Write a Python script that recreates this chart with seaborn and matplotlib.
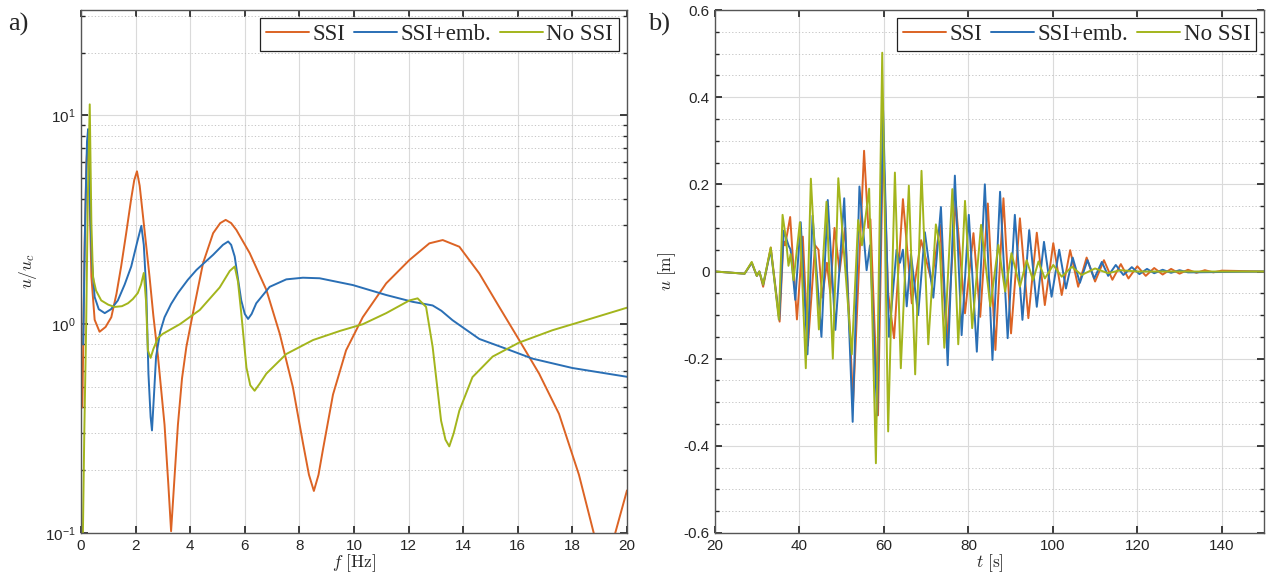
import numpy as np
import pandas as pd
import matplotlib
matplotlib.use("Agg")
import matplotlib.pyplot as plt
import seaborn as sns
from matplotlib.ticker import LogLocator, MultipleLocator, NullFormatter, FixedLocator

# ---------------- data: a) transfer functions ----------------
f_ssi = [0.05, 0.13, 0.2, 0.25, 0.3, 0.38, 0.5, 0.68, 0.9, 1.11, 1.3, 1.47, 1.65, 1.84, 1.95,
         2.05, 2.15, 2.27, 2.4, 2.51, 2.65, 2.82, 3.06, 3.2, 3.3, 3.42, 3.55, 3.7, 3.86, 4.1,
         4.47, 4.84, 5.1, 5.3, 5.5, 5.69, 6.18, 6.79, 7.28, 7.76, 8.13, 8.35, 8.53, 8.7, 8.86,
         9.23, 9.71, 10.32, 11.18, 12.03, 12.76, 13.25, 13.86, 14.59, 15.32, 16.05, 16.78,
         17.51, 18.24, 18.79, 19.2, 19.56, 20.0]
h_ssi = [0.4, 2.3, 6.0, 7.6, 5.0, 1.69, 1.05, 0.92, 0.97, 1.08, 1.4, 1.89, 2.7, 4.0, 4.9,
         5.4, 4.6, 3.3, 2.3, 1.69, 1.1, 0.7, 0.33, 0.17, 0.102, 0.18, 0.33, 0.55, 0.78, 1.13,
         1.96, 2.73, 3.05, 3.16, 3.05, 2.83, 2.19, 1.46, 0.90, 0.50, 0.27, 0.19, 0.159, 0.19, 0.25,
         0.46, 0.75, 1.08, 1.57, 2.03, 2.44, 2.53, 2.35, 1.75, 1.21, 0.84, 0.58,
         0.372, 0.19, 0.099, 0.06, 0.099, 0.16]

f_emb = [0.08, 0.15, 0.22, 0.26, 0.32, 0.4, 0.5, 0.65, 0.87, 1.1, 1.35, 1.6, 1.84, 2.05, 2.21,
         2.3, 2.39, 2.47, 2.55, 2.6, 2.67, 2.75, 2.9, 3.06, 3.3, 3.55, 3.91, 4.23, 4.84, 5.2,
         5.39, 5.5, 5.63, 5.75, 5.87, 6.0, 6.12, 6.25, 6.42, 6.91, 7.52, 8.13, 8.74, 9.96,
         11.18, 12.15, 12.88, 13.2, 13.61, 14.59, 15.56, 16.54, 18.0, 20.0]
h_emb = [0.8, 3.0, 7.5, 8.6, 4.1, 2.0, 1.35, 1.18, 1.13, 1.18, 1.30, 1.55, 1.89, 2.45, 2.96,
         2.4, 1.46, 0.58, 0.36, 0.31, 0.45, 0.70, 0.92, 1.08, 1.25, 1.41, 1.63, 1.82, 2.15, 2.4,
         2.49, 2.4, 2.11, 1.65, 1.30, 1.12, 1.06, 1.12, 1.26, 1.51, 1.64, 1.67, 1.66, 1.54,
         1.38, 1.28, 1.23, 1.16, 1.045, 0.85, 0.764, 0.684, 0.617, 0.56]

f_nossi = [0.07, 0.12, 0.19, 0.25, 0.32, 0.38, 0.44, 0.55, 0.74, 1.0, 1.23, 1.5, 1.72, 1.9,
           2.08, 2.2, 2.3, 2.38, 2.45, 2.55, 2.65, 2.82, 3.0, 3.62, 4.35, 5.08, 5.45, 5.63,
           5.75, 5.87, 6.06, 6.2, 6.36, 6.55, 6.79, 7.52, 8.5, 9.5, 10.32, 11.18, 12.03, 12.33,
           12.64, 12.88, 13.19, 13.35, 13.49, 13.65, 13.86, 14.34, 15.08, 16.05, 17.27, 18.49, 20.0]
h_nossi = [0.1, 0.3, 1.0, 4.0, 11.3, 3.06, 1.68, 1.45, 1.30, 1.24, 1.21, 1.22, 1.26, 1.32,
           1.41, 1.55, 1.76, 1.3, 0.75, 0.69, 0.76, 0.86, 0.9, 1.0, 1.17, 1.5, 1.8, 1.89,
           1.6, 1.13, 0.62, 0.51, 0.48, 0.52, 0.58, 0.72, 0.84, 0.93, 1.0, 1.13, 1.30, 1.33,
           1.21, 0.78, 0.345, 0.28, 0.26, 0.3, 0.386, 0.558, 0.70, 0.817, 0.936, 1.045, 1.2]

# ---------------- data: b) displacement time histories ----------------
t_ssi = [20, 27, 28.7, 29.9, 30.5, 31.4, 33.2, 35.3, 36.2, 36.6, 37.8, 39.4, 40.8, 42.0, 43.7,
         44.5, 45.4, 46.5, 47.3, 48.3, 49.5, 50.8, 52.7, 55.3, 56.3, 56.8, 58.6, 59.8, 61.0,
         62.4, 64.5, 66.6, 68.8, 71.3, 73.3, 74.9, 77.0, 79.2, 81.2, 82.8, 84.6, 86.4, 88.3,
         90.1, 92.2, 94.2, 96.2, 98.1, 100.1, 102.1, 104.1, 106.0, 108.0, 110.0, 112.1, 114.1,
         116.1, 117.9, 120, 122, 124, 126, 128, 130, 132, 134, 136, 138, 140, 150]
u_ssi = [0, -0.005, 0.02, -0.01, 0.0, -0.035, 0.055, -0.115, 0.07, 0.06, 0.125, -0.11, 0.08, -0.17, 0.06,
         0.05, -0.06, 0.02, -0.05, 0.1, 0.0, 0.1, -0.3, 0.277, 0.1, 0.12, -0.33, 0.3, -0.05,
         -0.153, 0.166, -0.073, 0.072, -0.023, 0.107, -0.165, 0.16, -0.096, 0.088, -0.104, 0.156, -0.18, 0.168,
         -0.142, 0.122, -0.107, 0.089, -0.077, 0.065, -0.054, 0.049, -0.035, 0.032, -0.023, 0.026, -0.019,
         0.017, -0.016, 0.012, -0.01, 0.008, -0.007, 0.006, -0.005, 0.004, -0.003, 0.003, -0.002, 0.002, 0]

t_emb = [20, 27, 28.7, 29.9, 30.5, 31.4, 33.2, 35.2, 36.3, 37.4, 37.9, 39.0, 40.3, 41.9, 43.1,
         45.2, 46.7, 48.5, 50.6, 52.6, 54.2, 55.9, 56.7, 58.4, 59.8, 61.2, 63.0, 63.8, 64.5,
         65.4, 66.4, 68.1, 69.7, 71.7, 73.5, 75.1, 76.8, 78.4, 80.1, 82.0, 83.9, 85.7, 87.5,
         89.3, 91.0, 92.8, 94.4, 96.2, 97.9, 99.7, 101.5, 103.1, 104.7, 106.4, 108.2, 109.8,
         111.6, 113.1, 114.9, 116.7, 118.7, 120.5, 122.3, 124, 126, 128, 130, 132, 150]
u_emb = [0, -0.005, 0.02, -0.01, 0.0, -0.03, 0.05, -0.11, 0.094, 0.06, 0.05, -0.065, 0.113, -0.19, 0.128,
         -0.15, 0.164, -0.134, 0.168, -0.345, 0.195, 0.003, 0.06, -0.33, 0.37, -0.15, 0.05, 0.02, 0.05,
         -0.08, 0.04, -0.1, 0.09, -0.06, 0.148, -0.215, 0.22, -0.146, 0.13, -0.184, 0.2, -0.203, 0.183,
         -0.153, 0.13, -0.111, 0.095, -0.081, 0.068, -0.058, 0.05, -0.039, 0.032, -0.026, 0.026, -0.016,
         0.022, -0.01, 0.015, -0.008, 0.01, -0.006, 0.006, -0.004, 0.004, -0.003, 0.003, -0.002, 0]

t_nossi = [20, 27, 28.7, 29.9, 30.5, 31.4, 33.2, 35.1, 36.0, 36.8, 37.4, 37.9, 38.6, 40.1, 41.5,
           42.7, 44.6, 46.4, 47.9, 49.2, 51.2, 52.4, 53.9, 54.8, 56.5, 58.1, 59.6, 61.0, 62.6,
           64.0, 65.9, 67.4, 68.9, 70.5, 72.3, 73.2, 74.3, 76.2, 77.6, 79.2, 80.9, 83.0, 85.2,
           87.1, 88.7, 90.2, 92.2, 93.8, 95.3, 96.6, 98.1, 100.1, 102.1, 104.5, 106.8, 110,
           113.1, 116, 120, 150]
u_nossi = [0, -0.005, 0.022, -0.01, 0.0, -0.03, 0.055, -0.11, 0.13, 0.075, 0.013, 0.04, -0.02, 0.113, -0.222,
           0.213, -0.133, 0.16, -0.2, 0.214, -0.04, -0.19, 0.118, 0.06, 0.19, -0.44, 0.502, -0.367, 0.227,
           -0.222, 0.197, -0.236, 0.231, -0.167, 0.108, 0.06, -0.175, 0.189, -0.167, 0.162, -0.13, 0.107, -0.08,
           0.061, -0.046, 0.042, -0.035, 0.026, -0.02, 0.023, -0.016, 0.015, -0.012, 0.011, -0.008, 0.007,
           -0.004, 0.003, 0, 0]

labels = ["SSI", "SSI+emb.", "No SSI"]
colors = ["#DC6324", "#2A6FB5", "#A3B51C"]

# ---------------- style ----------------
sns.set_theme(style="white")
plt.rcParams["font.family"] = ["Liberation Sans", "DejaVu Sans"]
plt.rcParams["mathtext.fontset"] = "cm"

fig = plt.figure(figsize=(12.7, 5.78), dpi=100)
ax1 = fig.add_axes([81 / 1270, 1 - 533 / 578, 546 / 1270, 523 / 578])
ax2 = fig.add_axes([715 / 1270, 1 - 533 / 578, 549 / 1270, 523 / 578])

freq_sets = [(f_ssi, h_ssi), (f_emb, h_emb), (f_nossi, h_nossi)]
time_sets = [(t_ssi, u_ssi), (t_emb, u_emb), (t_nossi, u_nossi)]

for (x, y), lab, c in zip(freq_sets, labels, colors):
    sns.lineplot(x=x, y=y, ax=ax1, color=c, lw=1.4, label=lab, estimator=None)
for (x, y), lab, c in zip(time_sets, labels, colors):
    sns.lineplot(x=x, y=y, ax=ax2, color=c, lw=1.4, label=lab, estimator=None)

# a) axis
ax1.set_yscale("log")
ax1.set_xlim(0, 20)
ax1.set_ylim(0.1, 10 ** 1.505)
ax1.xaxis.set_major_locator(MultipleLocator(2))
ax1.yaxis.set_major_locator(FixedLocator([0.1, 1, 10]))
ax1.yaxis.set_minor_locator(LogLocator(base=10, subs=np.arange(2, 10), numticks=20))
ax1.yaxis.set_minor_formatter(NullFormatter())
ax1.set_xlabel(r"$f\ \mathrm{[Hz]}$", fontsize=12.5, labelpad=0)
ax1.set_ylabel(r"$u/u_c$", fontsize=12.5, labelpad=4)

# b) axis
ax2.set_xlim(20, 150)
ax2.set_ylim(-0.6, 0.6)
ax2.xaxis.set_major_locator(MultipleLocator(20))
ax2.yaxis.set_minor_locator(MultipleLocator(0.05))
yt = np.round(np.arange(-0.6, 0.61, 0.2), 1)
ax2.set_yticks(yt)
ax2.set_yticklabels([f"{v:g}" for v in yt])
ax2.set_xlabel(r"$t\ \mathrm{[s]}$", fontsize=12.5, labelpad=0)
ax2.set_ylabel(r"$u\ \mathrm{[m]}$", fontsize=12.5, labelpad=4)

for ax in (ax1, ax2):
    ax.grid(True, which="major", color="#dadada", lw=0.8, ls="-")
    ax.grid(True, which="minor", axis="y", color="#bdbdbd", lw=0.6, ls=(0, (1.5, 2.5)))
    ax.set_axisbelow(True)
    for s in ax.spines.values():
        s.set_color("#555555")
        s.set_linewidth(1.0)
    ax.tick_params(which="both", direction="in", top=True, right=True, bottom=True, left=True,
                   labelsize=11, colors="#262626", pad=4)
    ax.tick_params(which="major", length=5)
    ax.tick_params(which="minor", length=3)
    leg = ax.legend(loc="upper right", ncol=3, handlelength=1.9, handletextpad=0.15,
                    columnspacing=0.35, borderpad=0.25, borderaxespad=0.35, frameon=True,
                    fancybox=False, framealpha=1, prop={"family": "Liberation Serif", "size": 16.5})
    leg.get_frame().set_edgecolor("#222222")
    leg.get_frame().set_linewidth(0.9)

fig.text(8 / 1270, 1 - 31 / 578, "a)", fontsize=19, family="Liberation Serif", va="baseline")
fig.text(648 / 1270, 1 - 31 / 578, "b)", fontsize=19, family="Liberation Serif", va="baseline")

fig.savefig("out.png", dpi=100)
